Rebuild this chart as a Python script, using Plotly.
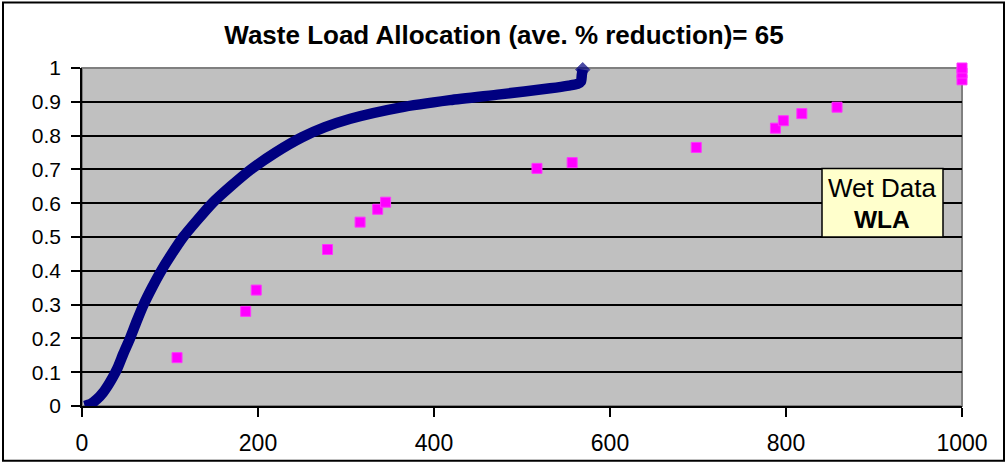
import plotly.graph_objects as go

# Allocation curve
curve_x = [3, 10, 17, 24, 30, 35, 40, 47, 54.5, 62, 70, 79.5, 90, 102, 115, 131, 148, 169,
           192, 220, 250, 276, 305, 361, 418, 475, 532, 553, 563, 567, 568, 569]
curve_y = [0.0, 0.006, 0.02, 0.04, 0.063, 0.085, 0.11, 0.155, 0.2, 0.25, 0.3, 0.35, 0.4,
           0.45, 0.5, 0.55, 0.6, 0.65, 0.7, 0.75, 0.795, 0.825, 0.85, 0.883, 0.905, 0.922,
           0.94, 0.948, 0.953, 0.96, 0.98, 0.995]

# Wet data points
wet_x = [108, 186, 198, 279, 316, 336, 345, 517, 557, 698, 788, 797, 818, 858, 1000, 1000, 1000]
wet_y = [0.143, 0.28, 0.343, 0.463, 0.544, 0.582, 0.603, 0.703, 0.72, 0.765, 0.822, 0.844,
         0.865, 0.884, 0.965, 0.985, 1.0]

title_text = "Waste Load Allocation (ave. % reduction)= 65"
x_ticks = [0, 200, 400, 600, 800, 1000]
y_ticks = [0, 0.1, 0.2, 0.3, 0.4, 0.5, 0.6, 0.7, 0.8, 0.9, 1]
y_tick_labels = ["0", "0.1", "0.2", "0.3", "0.4", "0.5", "0.6", "0.7", "0.8", "0.9", "1"]

FONT = "Liberation Sans, Arial, sans-serif"
W, H = 1008, 468
L, R, T, B = 82, 46, 68, 60
pw, ph = W - L - R, H - T - B

def px_to_paper_x(px):
    return (px - L) / pw

def px_to_paper_y(py):
    return (H - B - py) / ph

# only the end point of the curve shows a visible diamond tip
curve_marker_sizes = [0] * (len(curve_x) - 1) + [11]

fig = go.Figure()
fig.add_trace(go.Scatter(
    x=curve_x, y=curve_y, mode="lines+markers",
    line=dict(color="#000080", width=10.5, shape="spline", smoothing=0.6),
    marker=dict(symbol="diamond", size=curve_marker_sizes, color="#000080",
                line=dict(width=1, color="#000080")),
    cliponaxis=False, showlegend=False,
))
fig.add_trace(go.Scatter(
    x=wet_x, y=wet_y, mode="markers",
    marker=dict(symbol="square", size=10, color="#FF00FF",
                line=dict(color="#FF33FF", width=1)),
    cliponaxis=False, showlegend=False,
))

fig.update_layout(
    width=W, height=H,
    margin=dict(l=L, r=R, t=T, b=B),
    paper_bgcolor="white",
    plot_bgcolor="#C0C0C0",
    font=dict(family=FONT, color="black", size=20),
    title=dict(text="<b>" + title_text + "</b>", x=0.5, xanchor="center",
               y=1 - 35 / H, yanchor="middle",
               font=dict(family=FONT, size=26, color="black")),
    xaxis=dict(range=[0, 1000], tickvals=x_ticks, ticks="outside", ticklen=9,
               tickwidth=1.5, tickcolor="black", showgrid=False, zeroline=False,
               showline=True, linecolor="black", linewidth=1.5, ticklabelstandoff=7,
               tickfont=dict(size=23, family=FONT)),
    yaxis=dict(range=[0, 1], tickvals=y_ticks, ticktext=y_tick_labels, ticks="outside",
               ticklen=9, tickwidth=1.5, tickcolor="black", showgrid=True,
               gridcolor="black", gridwidth=1.5, zeroline=False,
               showline=True, linecolor="black", linewidth=1.5, ticklabelstandoff=6,
               tickfont=dict(size=21, family=FONT)),
    shapes=[
        # plot-area border (gray, Excel style)
        dict(type="rect", xref="paper", yref="paper", x0=0, x1=1, y0=0, y1=1,
             line=dict(color="#808080", width=2), layer="between"),
        # outer chart border
        dict(type="rect", xref="paper", yref="paper",
             x0=px_to_paper_x(3), x1=px_to_paper_x(1004),
             y0=px_to_paper_y(463), y1=px_to_paper_y(2),
             line=dict(color="black", width=2)),
        # text-box
        dict(type="rect", xref="paper", yref="paper",
             x0=px_to_paper_x(822), x1=px_to_paper_x(943),
             y0=px_to_paper_y(238), y1=px_to_paper_y(169),
             fillcolor="#FFFFCC", line=dict(color="black", width=1.5)),
    ],
    annotations=[
        dict(xref="paper", yref="paper", x=px_to_paper_x(882), y=px_to_paper_y(189),
             text="Wet Data", showarrow=False, xanchor="center", yanchor="middle",
             font=dict(family=FONT, size=26, color="black")),
        dict(xref="paper", yref="paper", x=px_to_paper_x(882), y=px_to_paper_y(220),
             text="<b>WLA</b>", showarrow=False, xanchor="center", yanchor="middle",
             font=dict(family=FONT, size=24.5, color="black")),
    ],
)

fig.write_html("out.html", config={"displayModeBar": False},
               post_script="document.body.style.margin='0';")
